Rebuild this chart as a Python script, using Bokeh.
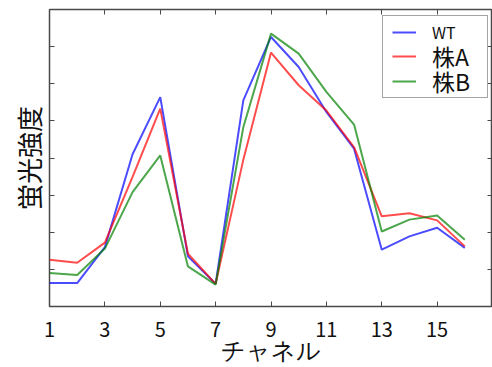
from bokeh.plotting import figure
from bokeh.models import (Range1d, FixedTicker, LinearAxis, Legend, LegendItem)
from bokeh.embed import file_html
from bokeh.resources import INLINE

channels = list(range(1, 17))
wt = [0.63, 0.63, 1.60, 4.10, 5.64, 1.35, 0.61, 5.55, 7.26, 6.45, 5.24, 4.25, 1.53, 1.89, 2.12, 1.58]
strain_a = [1.26, 1.18, 1.72, 3.49, 5.33, 1.42, 0.61, 3.95, 6.84, 5.96, 5.28, 4.29, 2.43, 2.51, 2.32, 1.62]
strain_b = [0.90, 0.85, 1.56, 3.08, 4.07, 1.08, 0.59, 4.83, 7.35, 6.81, 5.78, 4.90, 2.02, 2.34, 2.45, 1.80]
x_ticks = [1, 3, 5, 7, 9, 11, 13, 15]
y_ticks = [1, 2, 3, 4, 5, 6, 7]
series_names = ["WT", "株A", "株B"]
colors = ["#0000ff", "#ff0000", "#008000"]
x_label = "チャネル"
y_label = "蛍光強度"

JP = "Noto Sans CJK JP"
FRAME = "#4a4a4a"
TXT = "#111111"

p = figure(width=492, height=367, output_backend="svg", toolbar_location=None,
           x_range=Range1d(1, 17), y_range=Range1d(0, 8),
           min_border_left=49, min_border_right=0, min_border_top=9, min_border_bottom=61,
           background_fill_color="white", border_fill_color="white")
p.grid.visible = False
p.outline_line_color = FRAME
p.outline_line_width = 1.5

def style_axis(ax, show_labels):
    ax.axis_line_color = None
    ax.major_tick_in = 5
    ax.major_tick_out = 0
    ax.minor_tick_line_color = None
    ax.major_tick_line_color = FRAME
    ax.major_tick_line_width = 1
    if not show_labels:
        ax.major_label_text_font_size = "0px"
        ax.major_label_standoff = 0

xa = p.xaxis[0]
xa.ticker = FixedTicker(ticks=x_ticks)
style_axis(xa, True)
xa.major_label_text_font = JP
xa.major_label_text_font_size = "20px"
xa.major_label_text_color = TXT
xa.major_label_standoff = 15
xa.axis_label = x_label
xa.axis_label_text_font = "DejaVu Sans"
xa.axis_label_text_font_size = "24px"
xa.axis_label_text_font_style = "normal"
xa.axis_label_text_color = TXT
xa.axis_label_standoff = -3

ya = p.yaxis[0]
ya.ticker = FixedTicker(ticks=y_ticks)
style_axis(ya, False)
ya.axis_label = y_label
ya.axis_label_text_font = JP
ya.axis_label_text_font_size = "26px"
ya.axis_label_text_font_style = "normal"
ya.axis_label_text_color = TXT
ya.axis_label_standoff = 3

top_ax = LinearAxis(ticker=FixedTicker(ticks=x_ticks))
style_axis(top_ax, False)
p.add_layout(top_ax, "above")
right_ax = LinearAxis(ticker=FixedTicker(ticks=y_ticks))
style_axis(right_ax, False)
p.add_layout(right_ax, "right")

renderers = []
for vals, c in zip([wt, strain_a, strain_b], colors):
    r = p.line(channels, vals, line_color=c, line_width=2, line_alpha=0.7)
    renderers.append(r)

dummy = p.line(x=[], y=[], line_alpha=0)

# legend frame
box = Legend(items=[LegendItem(label=" ", renderers=[dummy])],
             location=(333, 208), padding=0, spacing=0, margin=0,
             glyph_width=24, glyph_height=81, label_height=81, label_width=80,
             label_standoff=0, label_text_font_size="10px",
             border_line_color=FRAME, border_line_width=1.5,
             background_fill_color="white", background_fill_alpha=1.0)
p.add_layout(box)

row_specs = [(0, "16px", 254), (1, "23px", 230), (2, "23px", 205)]
for idx, fsize, ypos in row_specs:
    leg = Legend(items=[LegendItem(label=series_names[idx], renderers=[renderers[idx]])],
                 location=(343, ypos), padding=0, spacing=0, margin=0,
                 glyph_width=24, glyph_height=40, label_height=40,
                 label_standoff=16, label_text_font=JP, label_text_font_size=fsize,
                 label_text_color=TXT,
                 border_line_color=None, background_fill_alpha=0)
    p.add_layout(leg)

open("out.html", "w").write(file_html(p, INLINE))
